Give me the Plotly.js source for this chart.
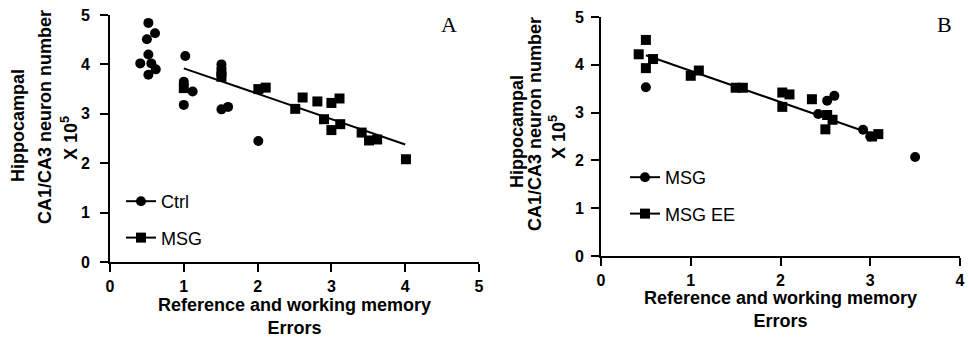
<!DOCTYPE html>
<html>
<head>
<meta charset="utf-8">
<script src="https://cdn.plot.ly/plotly-3.0.1.min.js"></script>
<style>html,body{margin:0;padding:0;background:#fff;}#chart{width:969px;height:342px;}</style>
</head>
<body>
<div id="chart"></div>
<script>
// ---- Panel A data ----
const ctrlX = [0.52, 0.61, 0.50, 0.52, 0.41, 0.56, 0.62, 0.52, 1.02, 1.00, 1.12, 1.00, 1.51, 1.51, 1.60, 2.01];
const ctrlY = [4.84, 4.63, 4.51, 4.20, 4.02, 4.02, 3.90, 3.79, 4.17, 3.65, 3.45, 3.18, 4.00, 3.09, 3.14, 2.45];
const msgAX = [1.00, 1.51, 1.51, 2.01, 2.11, 2.51, 2.61, 2.81, 3.00, 3.11, 2.90, 3.00, 3.12, 3.41, 3.51, 3.62, 4.01];
const msgAY = [3.52, 3.85, 3.75, 3.50, 3.53, 3.10, 3.33, 3.25, 3.22, 3.31, 2.89, 2.67, 2.79, 2.62, 2.46, 2.48, 2.08];
const fitAX = [1.0, 4.0];
const fitAY = [3.92, 2.38];

// ---- Panel B data ----
const msgBX = [0.50, 2.42, 2.52, 2.60, 2.92, 3.00, 3.50];
const msgBY = [3.53, 2.97, 3.25, 3.35, 2.64, 2.50, 2.07];
const eeX = [0.42, 0.50, 0.58, 0.50, 1.00, 1.09, 1.50, 1.58, 2.02, 2.10, 2.02, 2.35, 2.52, 2.58, 2.50, 3.09, 3.02];
const eeY = [4.22, 4.52, 4.12, 3.93, 3.77, 3.88, 3.52, 3.52, 3.42, 3.38, 3.12, 3.28, 2.95, 2.85, 2.65, 2.55, 2.50];
const fitBX = [0.5, 3.1];
const fitBY = [4.20, 2.50];

// ---- ticks & text ----
const xTicksA = [0, 1, 2, 3, 4, 5];
const xTicksB = [0, 1, 2, 3, 4];
const yTicks = [0, 1, 2, 3, 4, 5];
const legendA = ["Ctrl", "MSG"];
const legendB = ["MSG", "MSG EE"];
const yTitleLines = ["Hippocampal", "CA1/CA3 neuron number", "X 10<sup>5</sup>"];
const xTitle = "Reference and working memory<br>Errors";
const panelLabels = ["A", "B"];

const W = 969, H = 342;
const px = x => x / W;
const py = y => 1 - y / H;
const SANS = "Liberation Sans, Arial, sans-serif";
const bold = v => "<b>" + v + "</b>";

const mk = (sym) => ({symbol: sym, size: 10, color: "#000"});

const traces = [
  {x: ctrlX, y: ctrlY, type: "scatter", mode: "markers", marker: mk("circle"), xaxis: "x", yaxis: "y", showlegend: false},
  {x: msgAX, y: msgAY, type: "scatter", mode: "markers", marker: mk("square"), xaxis: "x", yaxis: "y", showlegend: false},
  {x: fitAX, y: fitAY, type: "scatter", mode: "lines", line: {color: "#000", width: 2}, xaxis: "x", yaxis: "y", showlegend: false},
  {x: msgBX, y: msgBY, type: "scatter", mode: "markers", marker: mk("circle"), xaxis: "x2", yaxis: "y2", showlegend: false},
  {x: eeX, y: eeY, type: "scatter", mode: "markers", marker: mk("square"), xaxis: "x2", yaxis: "y2", showlegend: false},
  {x: fitBX, y: fitBY, type: "scatter", mode: "lines", line: {color: "#000", width: 2}, xaxis: "x2", yaxis: "y2", showlegend: false},
  // legend entries
  {x: [null], y: [null], type: "scatter", mode: "lines+markers", name: legendA[0], marker: mk("circle"), line: {color: "#000", width: 2}, xaxis: "x", yaxis: "y", legend: "legend", legendgroup: "a1"},
  {x: [null], y: [null], type: "scatter", mode: "lines+markers", name: legendA[1], marker: mk("square"), line: {color: "#000", width: 2}, xaxis: "x", yaxis: "y", legend: "legend", legendgroup: "a2"},
  {x: [null], y: [null], type: "scatter", mode: "lines+markers", name: legendB[0], marker: mk("circle"), line: {color: "#000", width: 2}, xaxis: "x2", yaxis: "y2", legend: "legend2", legendgroup: "b1"},
  {x: [null], y: [null], type: "scatter", mode: "lines+markers", name: legendB[1], marker: mk("square"), line: {color: "#000", width: 2}, xaxis: "x2", yaxis: "y2", legend: "legend2", legendgroup: "b2"}
];

function axis(extra) {
  return Object.assign({
    showline: true, linewidth: 2, linecolor: "#000",
    ticks: "outside", ticklen: 8, tickwidth: 2, tickcolor: "#000",
    showgrid: false, zeroline: false, tickmode: "array",
    tickfont: {family: SANS, size: 16, color: "#000"},
    fixedrange: true, automargin: false
  }, extra);
}

const annotations = [];
annotations.push({text: panelLabels[0], x: px(449), y: py(24), xref: "paper", yref: "paper", showarrow: false, xanchor: "center", yanchor: "middle", font: {family: "Liberation Serif, Times New Roman, serif", size: 22, color: "#000"}});
annotations.push({text: panelLabels[1], x: px(944), y: py(24), xref: "paper", yref: "paper", showarrow: false, xanchor: "center", yanchor: "middle", font: {family: "Liberation Serif, Times New Roman, serif", size: 22, color: "#000"}});
const yA = [[18, 126], [45, 117], [70, 138]];
const yB = [[517, 132], [535, 124], [557, 137]];
[yA, yB].forEach(pos => {
  pos.forEach((p, i) => {
    annotations.push({text: bold(yTitleLines[i]), x: px(p[0]), y: py(p[1]), xref: "paper", yref: "paper", showarrow: false, textangle: -90, xanchor: "center", yanchor: "middle", font: {family: SANS, size: 18, color: "#000"}});
  });
});
annotations.push({text: bold(xTitle), x: px(294.5), y: py(316.5), xref: "paper", yref: "paper", showarrow: false, xanchor: "center", yanchor: "middle", font: {family: SANS, size: 18, color: "#000"}});
annotations.push({text: bold(xTitle), x: px(780), y: py(309.5), xref: "paper", yref: "paper", showarrow: false, xanchor: "center", yanchor: "middle", font: {family: SANS, size: 18, color: "#000"}});

const layout = {
  width: W, height: H,
  margin: {l: 0, r: 0, t: 0, b: 0},
  paper_bgcolor: "#fff", plot_bgcolor: "#fff",
  font: {family: SANS, size: 16, color: "#000"},
  xaxis: axis({domain: [px(110), px(479)], range: [0, 5], anchor: "y", tickvals: xTicksA, ticktext: xTicksA.map(bold), ticklabelstandoff: 1}),
  yaxis: axis({domain: [py(262), py(15)], range: [0, 5], anchor: "x", tickvals: yTicks, ticktext: yTicks.map(bold), ticklabelstandoff: 7}),
  xaxis2: axis({domain: [px(601), px(960)], range: [0, 4], anchor: "y2", tickvals: xTicksB, ticktext: xTicksB.map(bold), ticklabelstandoff: 1}),
  yaxis2: axis({domain: [py(256), py(17)], range: [0, 5], anchor: "x2", tickvals: yTicks, ticktext: yTicks.map(bold), ticklabelstandoff: 4}),
  legend: {x: px(121), y: py(183), xanchor: "left", yanchor: "top", bgcolor: "rgba(0,0,0,0)", font: {family: SANS, size: 18, color: "#000"}, tracegroupgap: 10, itemwidth: 30},
  legend2: {x: px(625), y: py(159), xanchor: "left", yanchor: "top", bgcolor: "rgba(0,0,0,0)", font: {family: SANS, size: 18, color: "#000"}, tracegroupgap: 10, itemwidth: 30},
  annotations: annotations,
  showlegend: true
};

Plotly.newPlot("chart", traces, layout, {displayModeBar: false, staticPlot: true});
</script>
</body>
</html>
